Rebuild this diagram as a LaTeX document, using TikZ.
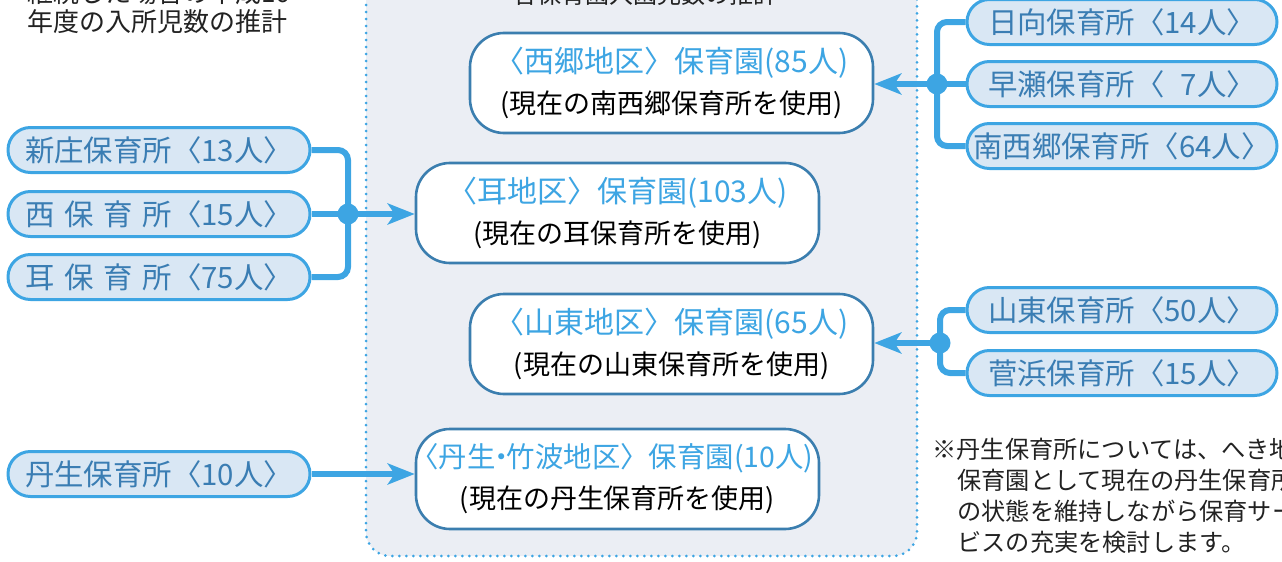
\documentclass[tikz,border=0pt]{standalone}
\usepackage{fontspec}
\setmainfont{Noto Sans CJK JP}
\usetikzlibrary{arrows.meta}
\definecolor{cline}{HTML}{3DA5E3}
\definecolor{pillfill}{HTML}{D9E7F4}
\definecolor{pilltext}{HTML}{3A7DB3}
\definecolor{boxline}{HTML}{3B7EAF}
\definecolor{bgfill}{HTML}{EBEEF4}
\definecolor{txt}{HTML}{222222}
\begin{document}
\begin{tikzpicture}[x=0.5pt,y=-0.5pt,
  pill/.style={draw=cline, line width=1.5pt, fill=pillfill, rounded corners=11.2pt,
    minimum height=22.5pt, inner sep=0pt, text=pilltext,
    font=\fontsize{14.7pt}{16pt}\selectfont},
  lpill/.style={pill, minimum width=151pt},
  rpill/.style={pill, minimum width=155pt},
  gardenbox/.style={draw=boxline, line width=1.3pt, fill=white, rounded corners=17pt,
    minimum width=201.5pt, minimum height=50pt, inner sep=0pt, align=center, text=black,
    font=\fontsize{13.5pt}{20.5pt}\selectfont},
  conn/.style={draw=cline, line width=3pt, rounded corners=5pt},
  arr/.style={draw=cline, line width=3pt, -{Stealth[length=13.5pt,width=10.5pt,inset=3.5pt]}},
  plain/.style={inner sep=0pt, text=txt, anchor=west},
  dotframe/.style={draw=cline, line width=1.5pt, dash pattern=on 0pt off 3.5pt, line cap=round,
    fill=bgfill, rounded corners=12pt}
]
\useasboundingbox (0,0) rectangle (1282,562);

% background frame
\path[dotframe] (366,-40) rectangle (917,556);

% headings (cut at the top as in the reference)
\node[plain, font=\fontsize{13pt}{15pt}\selectfont] (h1a) at (27,-7) {継続した場合の平成16};
\node[plain, font=\fontsize{13pt}{15pt}\selectfont] (h1b) at (27,22) {年度の入所児数の推計};
\node[inner sep=0pt, text=txt, font=\fontsize{12pt}{14pt}\selectfont] (h2) at (645,-6) {各保育園入園児数の推計};

% garden boxes
\newcommand{\ttlfont}{\color{cline}\fontsize{15pt}{20.5pt}\selectfont}
\node[gardenbox] (b1) at (671.5,83) {{\ttlfont 〈西郷地区〉保育園(85人)}\\(現在の南西郷保育所を使用)};
\node[gardenbox] (b2) at (617.5,213) {{\ttlfont 〈耳地区〉保育園(103人)}\\(現在の耳保育所を使用)};
\node[gardenbox] (b3) at (671.5,344) {{\ttlfont 〈山東地区〉保育園(65人)}\\(現在の山東保育所を使用)};
\node[gardenbox] (b4) at (617.5,479) {{\ttlfont\fontsize{14.2pt}{20.5pt}\selectfont \kern-0.4em〈丹生\kern-0.3em・\kern-0.3em竹波地区〉保育園(10人)}\\(現在の丹生保育所を使用)};

% left pills
\node[lpill] (l1) at (159,150) {新庄保育所〈13人〉};
\node[lpill] (l2) at (159,214) {西\hspace{0.333em}保\hspace{0.333em}育\hspace{0.333em}所〈15人〉};
\node[lpill] (l3) at (159,277) {耳\hspace{0.333em}保\hspace{0.333em}育\hspace{0.333em}所〈75人〉};
\node[lpill] (l4) at (159,474) {丹生保育所〈10人〉};

% right pills
\node[rpill] (r1) at (1122,22) {日向保育所〈14人〉};
\node[rpill] (r2) at (1122,84) {早瀬保育所〈\hphantom{1}7人〉};
\node[rpill] (r3) at (1122,146) {南西郷保育所〈64人〉};
\node[rpill] (r4) at (1122,310) {山東保育所〈50人〉};
\node[rpill] (r5) at (1122,373) {菅浜保育所〈15人〉};

% junctions
\coordinate (j1) at (348,214);
\coordinate (j2) at (937,84);
\coordinate (j3) at (940,343);

% connectors left
\path[conn] (l1.east) -| (j1) |- (l3.east);
\path[conn] (l2.east) -- (j1);
\path[arr] (j1) -- (j1 -| b2.west);
\path[arr] (l4.east) -- (l4.east -| b4.west);

% connectors right
\path[conn] (r1.west) -| (j2) |- (r3.west);
\path[conn] (r2.west) -- (j2);
\path[arr] (j2) -- (j2 -| b1.east);
\path[conn] (r4.west) -| (j3) |- (r5.west);
\path[arr] (j3) -- (j3 -| b3.east);

\fill[cline] (j1) circle (5.25pt);
\fill[cline] (j2) circle (5.25pt);
\fill[cline] (j3) circle (5.25pt);

% note
\node[plain, font=\fontsize{12.1pt}{14pt}\selectfont] (n1) at (932,449) {※丹生保育所については、へき地};
\node[plain, font=\fontsize{12.1pt}{14pt}\selectfont] (n2) at (957,480) {保育園として現在の丹生保育所};
\node[plain, font=\fontsize{12.1pt}{14pt}\selectfont] (n3) at (957,511) {の状態を維持しながら保育サー};
\node[plain, font=\fontsize{12.1pt}{14pt}\selectfont] (n4) at (957,542) {ビスの充実を検討します。};
\end{tikzpicture}
\end{document}
